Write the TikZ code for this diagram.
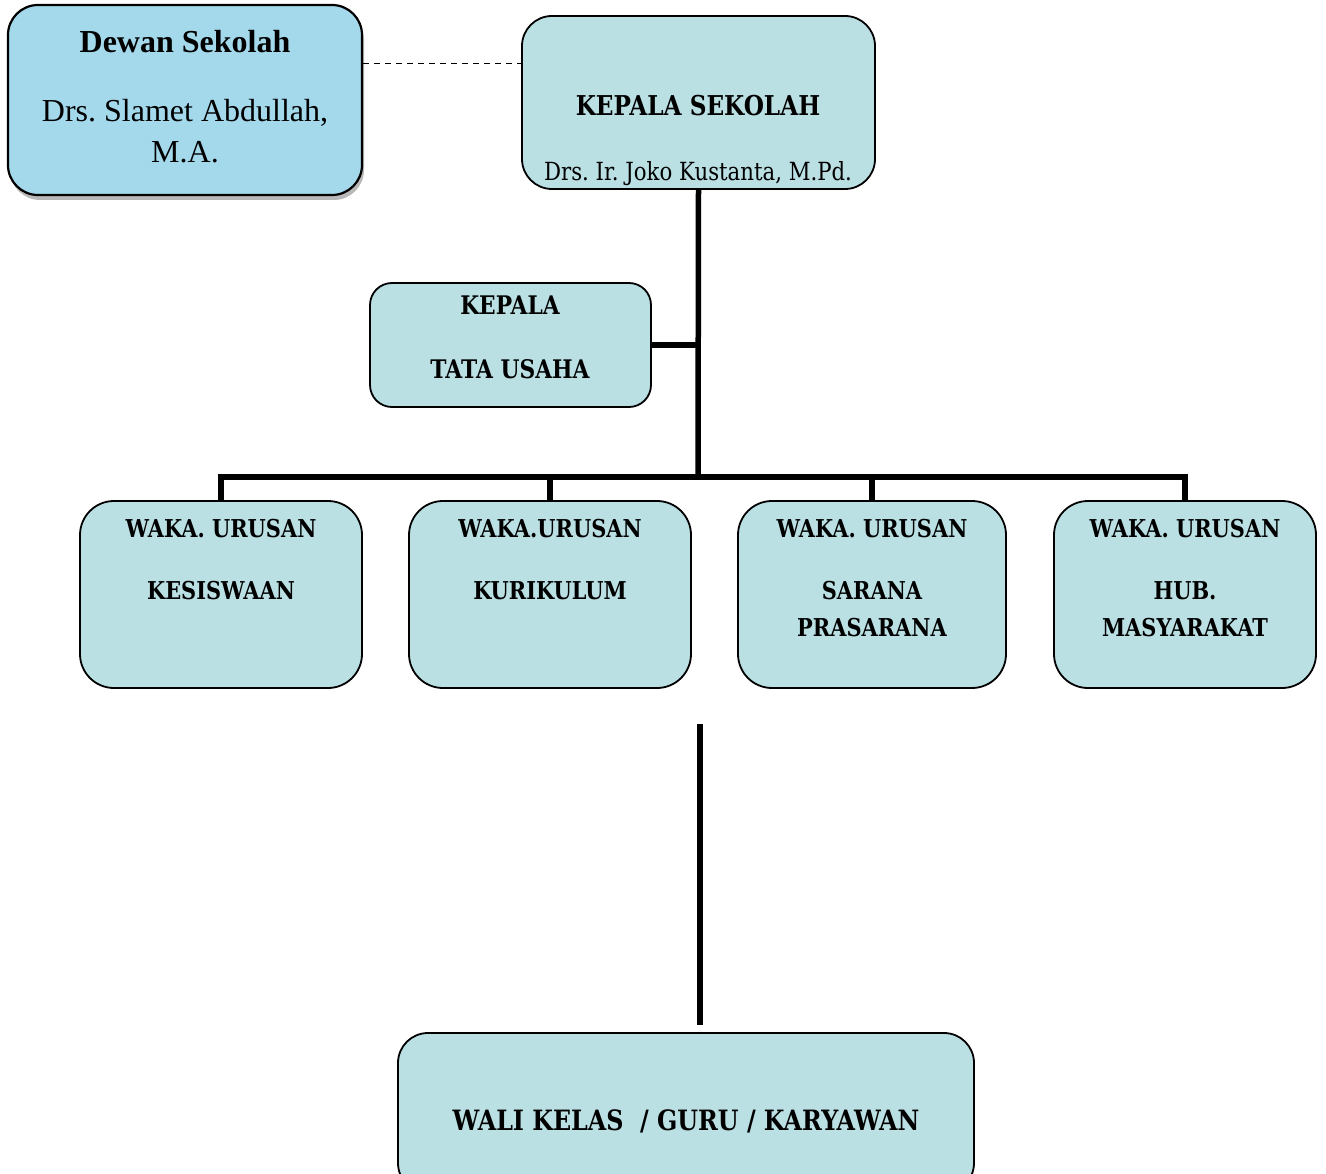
\documentclass[tikz,border=0pt]{standalone}
\usepackage{fontspec}
\setmainfont{DejaVu Serif}[FakeStretch=0.85]
\newfontfamily\tnr{Liberation Serif}
\usetikzlibrary{shadows,calc}
\definecolor{boxfill}{HTML}{BAE0E4}
\definecolor{dewanfill}{HTML}{A3D9EB}
\frenchspacing
\begin{document}
\begin{tikzpicture}[x=1pt,y=-1pt,
  box/.style={draw=black, line width=1.8pt, fill=boxfill, inner sep=0pt, rounded corners=30pt},
  conn/.style={line width=5.5pt},
  dashline/.style={line width=1.8pt, dash pattern=on 6pt off 5pt},
  bt/.style={anchor=base, inner sep=0pt, font=\bfseries\fontsize{24.6}{28}\selectfont},
  big/.style={anchor=base, inner sep=0pt, font=\bfseries\fontsize{27.3}{31}\selectfont},
  nm/.style={anchor=base, inner sep=0pt, font=\fontsize{25}{29}\selectfont},
  tr/.style={anchor=base, inner sep=0pt, font=\tnr\fontsize{32}{36}\selectfont}]
\useasboundingbox (0,0) rectangle (1326,1174);
\fill[white] (0,0) rectangle (1326,1174);
% Dewan Sekolah
\node[box, line width=2.2pt, fill=dewanfill, minimum width=354pt, minimum height=190pt,
  drop shadow={shadow xshift=2pt, shadow yshift=-5pt, fill=black!55}] (dewan) at (185,100) {};
\node[tr, font=\tnr\bfseries\fontsize{32}{36}\selectfont] (dewanT) at (185,53) {Dewan Sekolah};
\node[tr] (dewanN1) at (185,122) {Drs. Slamet Abdullah,};
\node[tr] (dewanN2) at (185,163) {M.A.};
% Kepala Sekolah
\node[box, minimum width=353pt, minimum height=173pt] (ks) at (698.5,102.5) {};
\node[big] (ksT) at (698,116) {KEPALA SEKOLAH};
\node[nm] (ksN) at (698,181) {Drs. Ir. Joko Kustanta, M.Pd.};
% Tata Usaha
\node[box, rounded corners=22pt, minimum width=281pt, minimum height=124pt] (tu) at (510.5,345) {};
\node[bt, font=\bfseries\fontsize{25.6}{29}\selectfont] (tuT1) at (510,315) {KEPALA};
\node[bt, font=\bfseries\fontsize{25.6}{29}\selectfont] (tuT2) at (510,379) {TATA USAHA};
% Waka boxes
\node[box, rounded corners=34pt, minimum width=282pt, minimum height=187pt] (w1) at (221,594.5) {};
\node[box, rounded corners=34pt, minimum width=282pt, minimum height=187pt] (w2) at (550,594.5) {};
\node[box, rounded corners=34pt, minimum width=268pt, minimum height=187pt] (w3) at (872,594.5) {};
\node[box, rounded corners=34pt, minimum width=262pt, minimum height=187pt] (w4) at (1185,594.5) {};
\node[bt] (w1a) at (221,537) {WAKA. URUSAN};
\node[bt] (w1b) at (221,599) {KESISWAAN};
\node[bt] (w2a) at (550,537) {WAKA.URUSAN};
\node[bt] (w2b) at (550,599) {KURIKULUM};
\node[bt] (w3a) at (872,537) {WAKA. URUSAN};
\node[bt] (w3b) at (872,599) {SARANA};
\node[bt] (w3c) at (872,636) {PRASARANA};
\node[bt] (w4a) at (1185,537) {WAKA. URUSAN};
\node[bt] (w4b) at (1185,599) {HUB.};
\node[bt] (w4c) at (1185,636) {MASYARAKAT};
% Bottom box
\node[box, minimum width=576pt, minimum height=160pt] (wk) at (686,1113) {};
\node[big, font=\bfseries\fontsize{28}{32}\selectfont] (wkT) at (686,1130) {WALI KELAS ~/ GURU / KARYAWAN};
% connectors
\coordinate (hub) at (698,477);
\coordinate (vt) at (700,724);
\coordinate (vb) at (700,1025);
\coordinate (dA) at ($(dewan.north east)!0.31!(dewan.south east)$);
\draw[dashline] (dA) -- (dA -| ks.west);
\draw[conn] (ks.south) -- (hub);
\draw[conn] (tu.east) -- (tu.east -| hub);
\draw[conn] (w1.north) -- (w1.north |- hub) -- (w4.north |- hub) -- (w4.north);
\draw[conn] (w2.north) -- (w2.north |- hub);
\draw[conn] (w3.north) -- (w3.north |- hub);
\draw[conn] (vt) -- (vb);
\end{tikzpicture}
\end{document}
